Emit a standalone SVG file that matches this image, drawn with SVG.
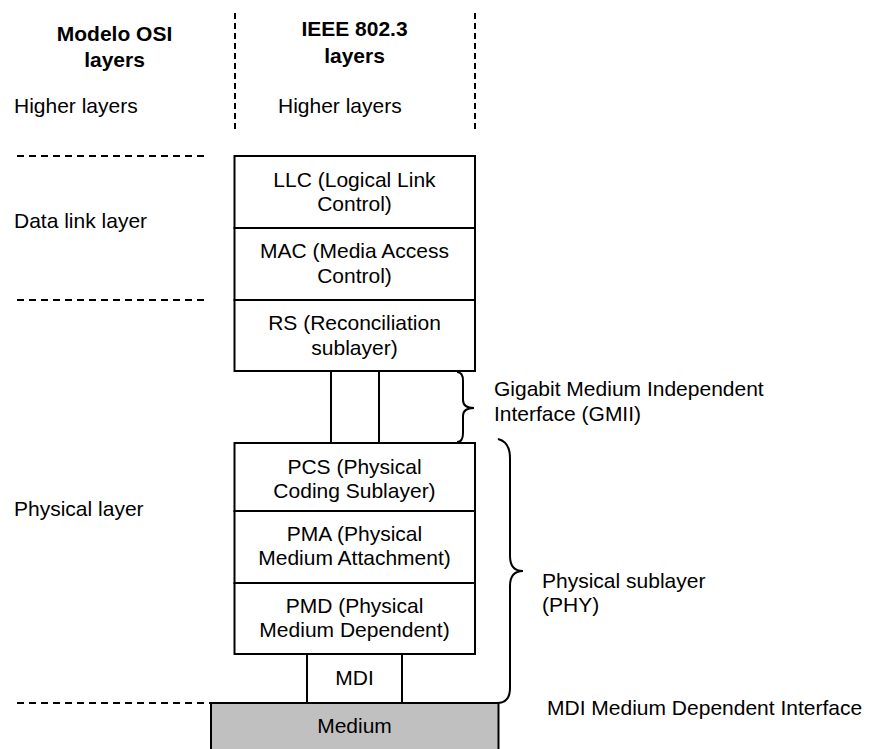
<svg xmlns="http://www.w3.org/2000/svg" width="869" height="749" viewBox="0 0 869 749">
<style>
text{font-family:"Liberation Sans",Arial,Helvetica,sans-serif;font-size:21px;fill:#000}
.b{font-weight:bold}
.c{text-anchor:middle}
.box{fill:#fff;stroke:#000;stroke-width:2}
.dh{stroke:#000;stroke-width:2;stroke-dasharray:7 5;fill:none}
.dv{stroke:#000;stroke-width:2;stroke-dasharray:6 4;fill:none}
.ln{stroke:#000;stroke-width:2;fill:none}
</style>
<rect width="869" height="749" fill="#fff"/>
<g id="guides">
<line class="dv" x1="235" y1="13" x2="235" y2="132"/>
<line class="dv" x1="475" y1="13" x2="475" y2="132"/>
<line class="dh" x1="17" y1="156" x2="207" y2="156"/>
<line class="dh" x1="17" y1="300" x2="207" y2="300"/>
<line class="dh" x1="17" y1="703" x2="210" y2="703"/>
</g>
<g id="headers">
<text class="b c" x="114.5" y="41">Modelo OSI</text>
<text class="b c" x="114.5" y="67">layers</text>
<text class="b c" x="354.5" y="36">IEEE 802.3</text>
<text class="b c" x="354.5" y="63">layers</text>
<text x="14" y="113">Higher layers</text>
<text x="278" y="113">Higher layers</text>
<text x="14" y="228">Data link layer</text>
<text x="14" y="516">Physical layer</text>
</g>
<g id="llc">
<rect class="box" x="234.5" y="156" width="240.5" height="72"/>
<text class="c" x="354.5" y="187">LLC (Logical Link</text>
<text class="c" x="354.5" y="211">Control)</text>
</g>
<g id="mac">
<rect class="box" x="234.5" y="228" width="240.5" height="72"/>
<text class="c" x="354.5" y="258">MAC (Media Access</text>
<text class="c" x="354.5" y="283">Control)</text>
</g>
<g id="rs">
<rect class="box" x="234.5" y="300" width="240.5" height="71"/>
<text class="c" x="354.5" y="330">RS (Reconciliation</text>
<text class="c" x="354.5" y="355">sublayer)</text>
</g>
<g id="gmii">
<line class="ln" x1="331" y1="371" x2="331" y2="443"/>
<line class="ln" x1="379" y1="371" x2="379" y2="443"/>
</g>
<g id="pcs">
<rect class="box" x="234.5" y="443" width="240.5" height="68"/>
<text class="c" x="354.5" y="474">PCS (Physical</text>
<text class="c" x="354.5" y="498">Coding Sublayer)</text>
</g>
<g id="pma">
<rect class="box" x="234.5" y="511" width="240.5" height="72"/>
<text class="c" x="354.5" y="541">PMA (Physical</text>
<text class="c" x="354.5" y="565">Medium Attachment)</text>
</g>
<g id="pmd">
<rect class="box" x="234.5" y="583" width="240.5" height="71"/>
<text class="c" x="354.5" y="613">PMD (Physical</text>
<text class="c" x="354.5" y="637">Medium Dependent)</text>
</g>
<g id="mdi">
<rect class="box" x="307" y="654" width="95" height="49"/>
<text class="c" x="354.5" y="685">MDI</text>
</g>
<g id="medium">
<rect x="211" y="703" width="287.5" height="50" fill="#c0c0c0" stroke="#000" stroke-width="2"/>
<text class="c" x="354.5" y="733">Medium</text>
</g>
<g id="connectors">
<path class="ln" d="M457,372 Q463,372 463,381 L463,400 Q463,408 474,408 Q463,408 463,416 L463,433 Q463,442 457,442"/>
<path class="ln" d="M498,439 Q510,442 510,458 L510,556 Q510,571 523,571 Q510,571 510,586 L510,688 Q510,703 497,703"/>
</g>
<g id="labels">
<text x="494" y="396">Gigabit Medium Independent</text>
<text x="494" y="421">Interface (GMII)</text>
<text x="542" y="588">Physical sublayer</text>
<text x="542" y="612">(PHY)</text>
<text x="547" y="715">MDI Medium Dependent Interface</text>
</g>
</svg>
